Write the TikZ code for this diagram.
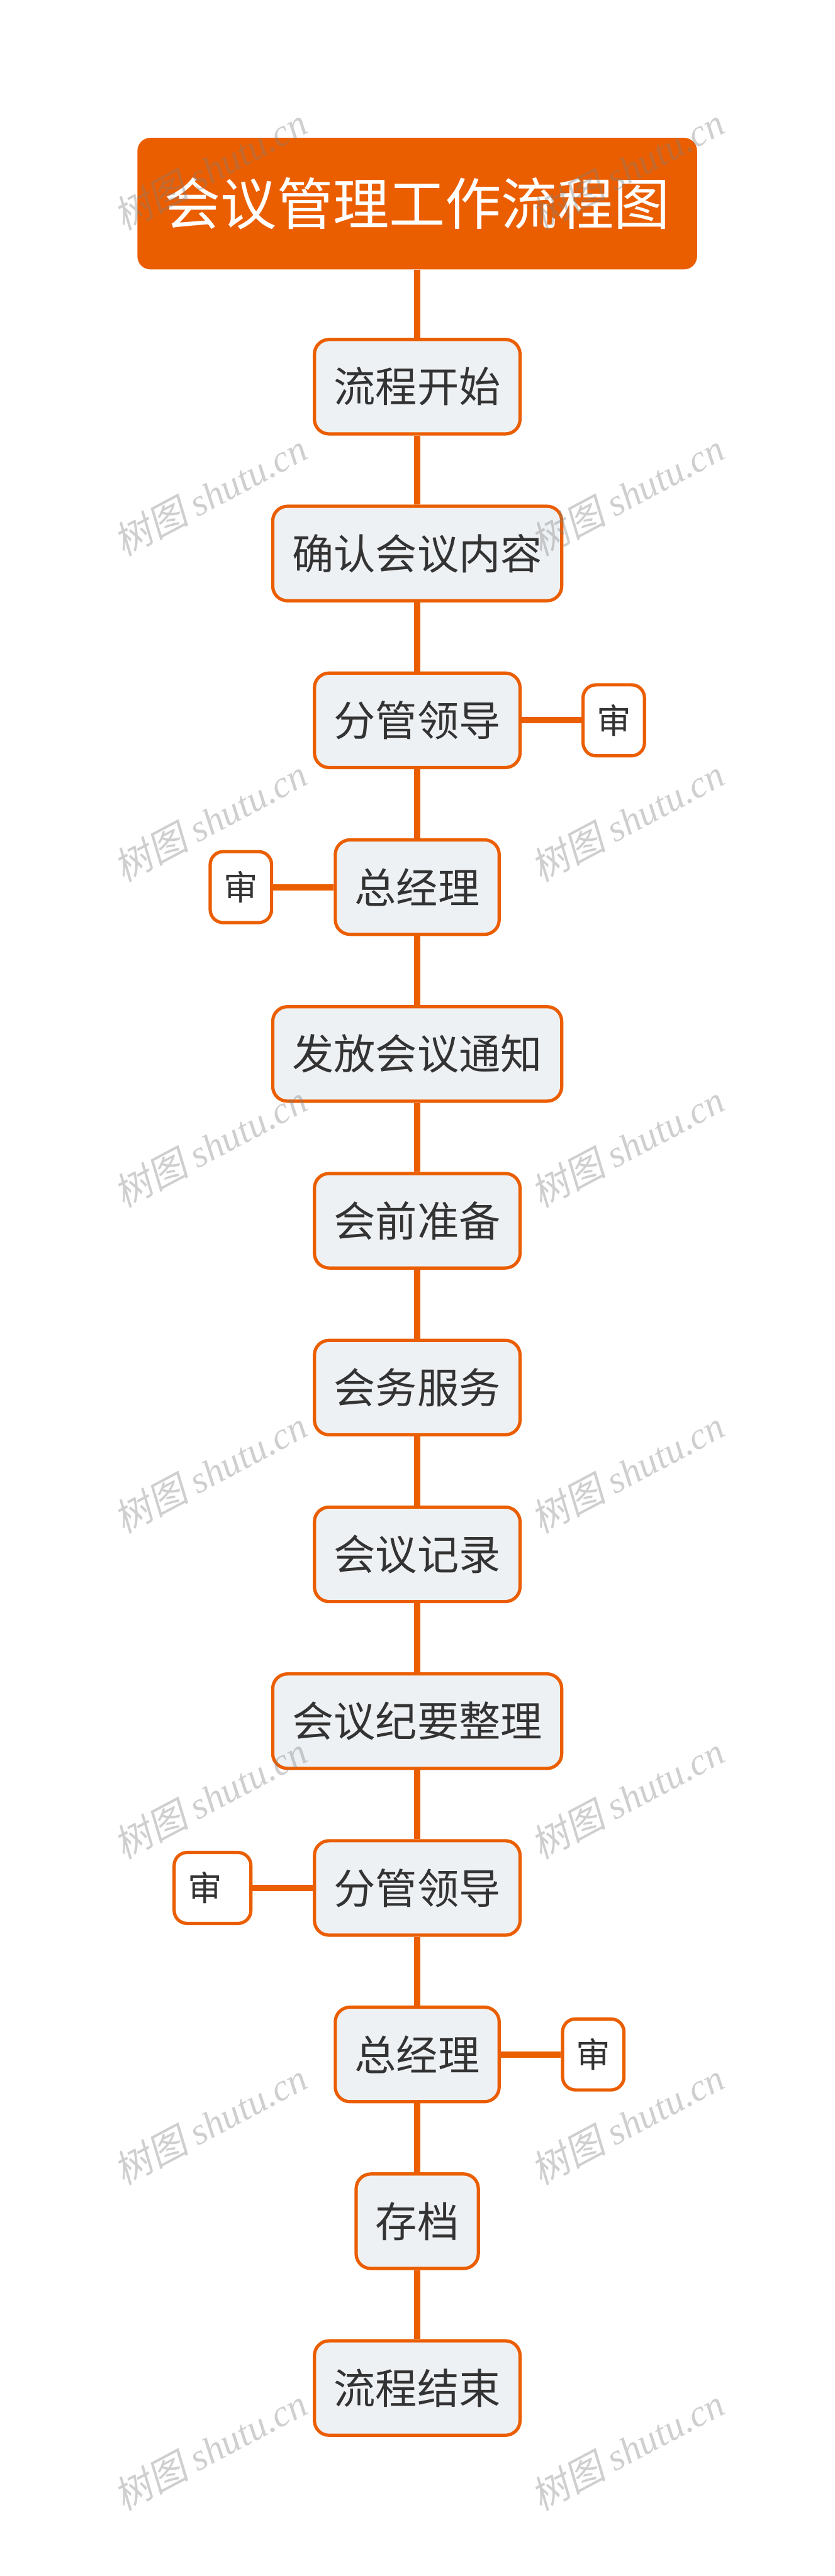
\documentclass[tikz,border=0pt]{standalone}
\usepackage{fontspec}
\newfontfamily\cjk{Noto Sans CJK SC}
\newfontfamily\wmcjk[FakeSlant=0.2]{Noto Sans CJK SC}
\newfontfamily\wmlat{Liberation Serif}
\definecolor{mmorange}{HTML}{EB5E00}
\definecolor{mmfill}{HTML}{EEF1F4}
\definecolor{mmtext}{HTML}{333333}
\tikzset{
  topic/.style={rectangle,rounded corners=0.4cm,fill=mmorange,text=white,
    font=\cjk\fontsize{49}{55}\selectfont,inner xsep=0.835cm,minimum height=4.04cm},
  task/.style={rectangle,rounded corners=0.45cm,draw=mmorange,line width=0.1cm,
    fill=mmfill,text=mmtext,font=\cjk\fontsize{36.4}{40}\selectfont,
    inner xsep=0.595cm,minimum height=2.9cm},
  check/.style={rectangle,rounded corners=0.4cm,draw=mmorange,line width=0.1cm,
    fill=white,text=mmtext,font=\cjk\fontsize{30}{34}\selectfont,
    inner xsep=0.415cm,minimum height=2.18cm},
  link/.style={draw=mmorange,line width=0.19cm},
  wmark/.style={text=black!50,text opacity=0.38,rotate=28,inner sep=0pt,
    font=\fontsize{33}{36}\selectfont}
}
\begin{document}
\begin{tikzpicture}
\useasboundingbox (0,0) rectangle (25.6,-79.07);
%---------------------------------------------------
\node[topic] (head) at (12.80,-6.25) {会议管理工作流程图};
%---------------------------------------------------
\node[task] (start)   at (12.80,-11.87) {流程开始};
\node[task] (confirm) at (12.80,-16.99) {确认会议内容};
\node[task] (lead1)   at (12.80,-22.11) {分管领导};
\node[task] (gm1)     at (12.80,-27.23) {总经理};
\node[task] (notice)  at (12.80,-32.35) {发放会议通知};
\node[task] (prep)    at (12.80,-37.47) {会前准备};
\node[task] (service) at (12.80,-42.59) {会务服务};
\node[task] (record)  at (12.80,-47.71) {会议记录};
\node[task] (minutes) at (12.80,-52.83) {会议纪要整理};
\node[task] (lead2)   at (12.80,-57.95) {分管领导};
\node[task] (gm2)     at (12.80,-63.06) {总经理};
\node[task] (archive) at (12.80,-68.18) {存档};
\node[task] (finish)  at (12.80,-73.30) {流程结束};
%---------------------------------------------------
\node[check] (chk1) at (18.83,-22.11) {审};
\node[check] (chk2) at (7.39,-27.23)  {审};
\node[check] (chk3) at (6.52,-57.95)  {审\kern0.47cm};
\node[check] (chk4) at (18.20,-63.06) {审};
%---------------------------------------------------
\draw[link] (head) -- (start);
\draw[link] (start) -- (confirm);
\draw[link] (confirm) -- (lead1);
\draw[link] (lead1) -- (gm1);
\draw[link] (gm1) -- (notice);
\draw[link] (notice) -- (prep);
\draw[link] (prep) -- (service);
\draw[link] (service) -- (record);
\draw[link] (record) -- (minutes);
\draw[link] (minutes) -- (lead2);
\draw[link] (lead2) -- (gm2);
\draw[link] (gm2) -- (archive);
\draw[link] (archive) -- (finish);
%---------------------------------------------------
\draw[link] (lead1) -- (chk1);
\draw[link] (gm1) -- (chk2);
\draw[link] (lead2) -- (chk3);
\draw[link] (gm2) -- (chk4);
%--------------------------------------------------- watermarks
\node[wmark] (wm1)  at (6.45,-5.18)  {\wmcjk 树图 \wmlat\itshape shutu.cn};
\node[wmark] (wm2)  at (19.25,-5.18) {\wmcjk 树图 \wmlat\itshape shutu.cn};
\node[wmark] (wm3)  at (6.45,-15.18)  {\wmcjk 树图 \wmlat\itshape shutu.cn};
\node[wmark] (wm4)  at (19.25,-15.18) {\wmcjk 树图 \wmlat\itshape shutu.cn};
\node[wmark] (wm5)  at (6.45,-25.18)  {\wmcjk 树图 \wmlat\itshape shutu.cn};
\node[wmark] (wm6)  at (19.25,-25.18) {\wmcjk 树图 \wmlat\itshape shutu.cn};
\node[wmark] (wm7)  at (6.45,-35.18)  {\wmcjk 树图 \wmlat\itshape shutu.cn};
\node[wmark] (wm8)  at (19.25,-35.18) {\wmcjk 树图 \wmlat\itshape shutu.cn};
\node[wmark] (wm9)  at (6.45,-45.18)  {\wmcjk 树图 \wmlat\itshape shutu.cn};
\node[wmark] (wm10) at (19.25,-45.18) {\wmcjk 树图 \wmlat\itshape shutu.cn};
\node[wmark] (wm11) at (6.45,-55.18)  {\wmcjk 树图 \wmlat\itshape shutu.cn};
\node[wmark] (wm12) at (19.25,-55.18) {\wmcjk 树图 \wmlat\itshape shutu.cn};
\node[wmark] (wm13) at (6.45,-65.18)  {\wmcjk 树图 \wmlat\itshape shutu.cn};
\node[wmark] (wm14) at (19.25,-65.18) {\wmcjk 树图 \wmlat\itshape shutu.cn};
\node[wmark] (wm15) at (6.45,-75.18)  {\wmcjk 树图 \wmlat\itshape shutu.cn};
\node[wmark] (wm16) at (19.25,-75.18) {\wmcjk 树图 \wmlat\itshape shutu.cn};
\end{tikzpicture}
\end{document}
